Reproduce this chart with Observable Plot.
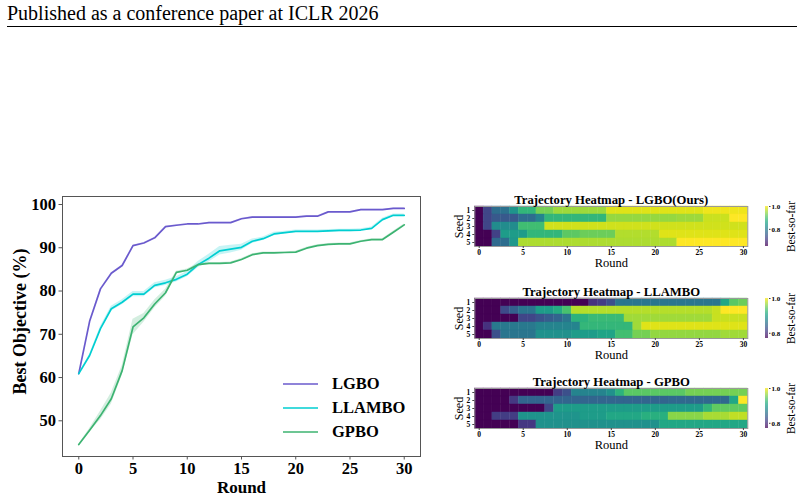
<!DOCTYPE html>
<html>
<head>
<meta charset="utf-8">
<script src="https://cdn.jsdelivr.net/npm/d3@7"></script>
<script src="https://cdn.jsdelivr.net/npm/@observablehq/plot@0.6"></script>
<style>
  body { margin: 0; background: #fff; }
  #page { position: relative; width: 804px; height: 498px; overflow: hidden; background: #fff;
          font-family: "Liberation Serif", "Times New Roman", serif; color: #000; }
  .abs { position: absolute; }
  #header { left: 7px; top: 3px; font-size: 20px; line-height: 20px; white-space: nowrap; }
  #rule { left: 7px; top: 26px; width: 790px; height: 0; border-top: 1px solid #000; }
</style>
</head>
<body>
<div id="page">
  <div id="header" class="abs">Published as a conference paper at ICLR 2026</div>
  <div id="rule" class="abs"></div>
</div>
<script>
// ---- Rounds, seeds and tick values ----
const rounds = [0, 1, 2, 3, 4, 5, 6, 7, 8, 9, 10, 11, 12, 13, 14, 15, 16, 17, 18, 19, 20,
                21, 22, 23, 24, 25, 26, 27, 28, 29, 30];
const seeds = [1, 2, 3, 4, 5];
const roundTicks = [0, 5, 10, 15, 20, 25, 30];
const objectiveTicks = [50, 60, 70, 80, 90, 100];
const colorbarTicks = [0.8, 1.0];

// ---- Mean best objective (%) per round, with the half-width of the shaded band ----
const methods = ["LGBO", "LLAMBO", "GPBO"];
const methodColors = ["#6a5acd", "#00ced1", "#3cb371"];

const lgboMean = [60.9, 73.0, 80.5, 84.1, 85.9, 90.5, 91.1, 92.3, 94.9, 95.2, 95.5, 95.5, 95.8, 95.8, 95.8, 96.7,
                  97.1, 97.1, 97.1, 97.1, 97.1, 97.3, 97.3, 98.3, 98.3, 98.3, 98.8, 98.8, 98.8, 99.1, 99.1];
const lgboBand = [0, 0.1, 0.1, 0.1, 0.1, 0.1, 0.1, 0.1, 0.1, 0.1, 0.1, 0.1, 0.1, 0.1, 0.1, 0.1,
                  0.1, 0.1, 0.1, 0.1, 0.1, 0.1, 0.1, 0.1, 0.1, 0.1, 0.1, 0.1, 0.1, 0.1, 0.1];

const llamboMean = [60.9, 65.1, 71.3, 75.9, 77.4, 79.3, 79.3, 81.3, 81.9, 82.7, 83.9, 86.1, 87.6, 89.3, 89.7, 90.1,
                    91.5, 92.1, 93.2, 93.5, 93.8, 93.8, 93.8, 93.9, 94.0, 94.0, 94.1, 94.5, 96.5, 97.5, 97.5];
const llamboBand = [0, 0.3, 0.5, 0.6, 0.6, 0.6, 0.6, 0.6, 0.6, 0.6, 0.6, 0.7, 0.9, 1.0, 0.9, 0.7,
                    0.5, 0.4, 0.4, 0.3, 0.3, 0.3, 0.3, 0.3, 0.3, 0.3, 0.3, 0.3, 0.3, 0.3, 0.3];

const gpboMean = [44.5, 47.8, 51.2, 55.1, 61.6, 71.7, 73.8, 77.0, 79.6, 84.3, 84.8, 86.1, 86.4, 86.4, 86.5, 87.3,
                  88.4, 88.8, 88.8, 88.9, 89.0, 89.9, 90.5, 90.8, 90.9, 90.9, 91.5, 91.9, 91.9, 93.6, 95.3];
const gpboBand = [0, 0.4, 1.0, 1.3, 1.1, 1.8, 1.0, 0.9, 0.8, 0.3, 0.3, 0.2, 0.2, 0.2, 0.2, 0.2,
                  0.2, 0.2, 0.2, 0.2, 0.2, 0.2, 0.2, 0.2, 0.2, 0.2, 0.2, 0.2, 0.2, 0.2, 0.2];

// ---- Best-so-far trajectories per seed (one array per seed, one value per round) ----
const lgboSeed1 = [0.65, 0.723, 0.774, 0.78, 0.831, 0.881, 0.881, 0.927, 0.927, 0.949, 0.949, 0.949, 0.949, 0.949, 0.949, 0.983,
                   0.983, 0.983, 0.983, 0.983, 0.983, 0.983, 0.983, 0.983, 0.983, 0.983, 0.991, 0.991, 0.991, 0.991, 0.991];
const lgboSeed2 = [0.65, 0.723, 0.746, 0.746, 0.746, 0.774, 0.774, 0.808, 0.881, 0.881, 0.881, 0.881, 0.881, 0.881, 0.881, 0.944,
                   0.944, 0.944, 0.944, 0.944, 0.944, 0.944, 0.944, 0.949, 0.949, 0.949, 0.972, 0.972, 0.972, 1.0, 1.0];
const lgboSeed3 = [0.65, 0.723, 0.819, 0.819, 0.819, 0.893, 0.893, 0.893, 0.975, 0.975, 0.975, 0.975, 0.975, 0.975, 0.975, 0.975,
                   0.975, 0.975, 0.975, 0.975, 0.975, 0.975, 0.975, 0.975, 0.975, 0.975, 0.975, 0.975, 0.975, 0.975, 0.975];
const lgboSeed4 = [0.65, 0.65, 0.718, 0.842, 0.842, 0.842, 0.881, 0.881, 0.881, 0.881, 0.912, 0.912, 0.921, 0.921, 0.921, 0.921,
                   0.96, 0.96, 0.96, 0.96, 0.96, 0.983, 0.983, 0.983, 0.983, 0.983, 0.983, 0.983, 0.983, 0.983, 0.983];
const lgboSeed5 = [0.65, 0.65, 0.769, 0.774, 0.836, 0.957, 0.957, 0.957, 0.957, 0.957, 0.957, 0.957, 0.957, 0.957, 0.957, 0.957,
                   0.957, 0.957, 0.957, 0.957, 0.957, 0.957, 0.957, 1.0, 1.0, 1.0, 1.0, 1.0, 1.0, 1.0, 1.0];

const llamboSeed1 = [0.77, 0.77, 0.77, 0.77, 0.77, 0.77, 0.77, 0.77, 0.77, 0.77, 0.77, 0.77, 0.77, 0.803, 0.811, 0.826,
                     0.86, 0.86, 0.86, 0.86, 0.86, 0.86, 0.86, 0.86, 0.86, 0.86, 0.86, 0.86, 0.907, 0.941, 0.948];
const llamboSeed2 = [0.77, 0.77, 0.77, 0.822, 0.84, 0.859, 0.859, 0.896, 0.896, 0.911, 0.933, 0.974, 0.974, 0.974, 0.974, 0.974,
                     0.974, 0.974, 0.974, 0.974, 0.974, 0.974, 0.974, 0.974, 0.974, 0.974, 0.974, 0.981, 1.0, 1.0, 1.0];
const llamboSeed3 = [0.77, 0.77, 0.77, 0.77, 0.77, 0.818, 0.818, 0.829, 0.837, 0.844, 0.859, 0.918, 0.918, 0.926, 0.926, 0.926,
                     0.926, 0.967, 0.967, 0.967, 0.967, 0.967, 0.967, 0.967, 0.967, 0.967, 0.967, 0.981, 0.981, 0.981, 0.981];
const llamboSeed4 = [0.77, 0.803, 0.863, 0.863, 0.863, 0.863, 0.863, 0.874, 0.874, 0.874, 0.874, 0.874, 0.922, 0.922, 0.922, 0.922,
                     0.922, 0.922, 0.967, 0.989, 0.989, 0.989, 0.989, 0.989, 0.989, 0.989, 0.989, 0.989, 0.989, 0.989, 0.989];
const llamboSeed5 = [0.77, 0.77, 0.826, 0.859, 0.859, 0.859, 0.859, 0.885, 0.885, 0.885, 0.885, 0.896, 0.896, 0.896, 0.904, 0.904,
                     0.93, 0.93, 0.952, 0.952, 0.963, 0.963, 0.963, 0.963, 0.963, 0.963, 0.963, 0.963, 0.967, 0.967, 0.967];

const gpboSeed1 = [0.77, 0.77, 0.77, 0.77, 0.77, 0.77, 0.77, 0.77, 0.77, 0.811, 0.826, 0.874, 0.874, 0.874, 0.874, 0.885,
                   0.918, 0.941, 0.941, 0.941, 0.941, 0.941, 0.941, 0.941, 0.952, 0.952, 0.952, 0.952, 0.952, 0.952, 0.952];
const gpboSeed2 = [0.77, 0.77, 0.77, 0.77, 0.807, 0.844, 0.844, 0.844, 0.844, 0.844, 0.844, 0.844, 0.844, 0.844, 0.844, 0.844,
                   0.844, 0.844, 0.844, 0.844, 0.844, 0.844, 0.848, 0.848, 0.848, 0.848, 0.848, 0.848, 0.848, 0.907, 1.0];
const gpboSeed3 = [0.77, 0.77, 0.77, 0.77, 0.77, 0.77, 0.77, 0.77, 0.818, 0.896, 0.896, 0.896, 0.896, 0.896, 0.896, 0.896,
                   0.896, 0.896, 0.896, 0.896, 0.896, 0.896, 0.896, 0.896, 0.896, 0.896, 0.922, 0.944, 0.944, 0.944, 0.944];
const gpboSeed4 = [0.77, 0.77, 0.811, 0.811, 0.811, 0.889, 0.889, 0.889, 0.889, 0.889, 0.889, 0.889, 0.896, 0.896, 0.896, 0.907,
                   0.907, 0.907, 0.907, 0.915, 0.915, 0.915, 0.959, 0.959, 0.959, 0.959, 0.97, 0.97, 0.97, 0.978, 0.978];
const gpboSeed5 = [0.77, 0.77, 0.77, 0.77, 0.77, 0.807, 0.807, 0.885, 0.885, 0.885, 0.885, 0.885, 0.885, 0.885, 0.885, 0.885,
                   0.885, 0.885, 0.885, 0.885, 0.885, 0.907, 0.907, 0.907, 0.907, 0.907, 0.907, 0.907, 0.907, 0.907, 0.907];

const heatmapTitles = ["Trajectory Heatmap - LGBO(Ours)", "Trajectory Heatmap - LLAMBO", "Trajectory Heatmap - GPBO"];

// ---------------------------------------------------------------------------------------------
const page = d3.select("#page");
const serif = "'Liberation Serif', 'Times New Roman', serif";

function place(node, left, top) {
  node.style.position = "absolute";
  node.style.left = left + "px";
  node.style.top = top + "px";
  page.node().appendChild(node);
}

// Centered text options (frameAnchor would otherwise pick start/top/bottom anchors)
const centered = {textAnchor: "middle", lineAnchor: "middle"};

// ---- Line chart: best objective vs round ----
const curves = [
  {name: "LGBO", mean: lgboMean, band: lgboBand},
  {name: "LLAMBO", mean: llamboMean, band: llamboBand},
  {name: "GPBO", mean: gpboMean, band: gpboBand}
];
const curveRows = curves.flatMap(c => rounds.map((r, i) => ({
  method: c.name, round: r, mean: c.mean[i], lo: c.mean[i] - c.band[i], hi: c.mean[i] + c.band[i]
})));

const lineChart = Plot.plot({
  width: 430, height: 312,
  marginLeft: 62, marginRight: 10, marginTop: 10, marginBottom: 42,
  style: {fontFamily: serif, fontWeight: "bold", fontSize: "16.5px", color: "#000", background: "transparent", overflow: "visible"},
  x: {domain: [-1.5, 31.5]},
  y: {domain: [41.75, 101.85]},
  color: {domain: methods, range: methodColors},
  marks: [
    Plot.areaY(curveRows, {x: "round", y1: "lo", y2: "hi", z: "method", fill: "method", fillOpacity: 0.22}),
    Plot.line(curveRows, {x: "round", y: "mean", z: "method", stroke: "method", strokeWidth: 1.7}),
    Plot.frame({stroke: "#555", strokeWidth: 1}),
    Plot.axisX(roundTicks, {tickSize: 3.5, tickPadding: 2, stroke: "#555", label: null}),
    Plot.axisY(objectiveTicks, {tickSize: 3.5, tickPadding: 3, stroke: "#555", label: null}),
    Plot.text(["Round"], {text: d => d, frameAnchor: "bottom", ...centered, dy: 31, fontSize: 17}),
    Plot.text(["Best Objective (%)"], {text: d => d, frameAnchor: "left", ...centered, dx: -42, dy: -5, rotate: -90, fontSize: 18})
  ]
});
place(lineChart, 0, 186);

// Legend, lower right inside the axes
const legend = document.createElement("div");
methods.forEach((m, i) => {
  const row = document.createElement("div");
  row.style.cssText = "display:flex;align-items:center;height:24px;";
  const swatch = d3.create("svg").attr("width", 35).attr("height", 24);
  swatch.append("line").attr("x1", 0).attr("x2", 35).attr("y1", 12).attr("y2", 12)
    .attr("stroke", methodColors[i]).attr("stroke-width", 1.7);
  row.appendChild(swatch.node());
  const label = document.createElement("span");
  label.textContent = m;
  label.style.cssText = `margin-left:14px;font-family:${serif};font-weight:bold;font-size:16.5px;line-height:24px;`;
  row.appendChild(label);
  legend.appendChild(row);
});
place(legend, 283, 372);

// ---- Heatmaps of per-seed best-so-far, each with its own colorbar ----
const grids = [
  [lgboSeed1, lgboSeed2, lgboSeed3, lgboSeed4, lgboSeed5],
  [llamboSeed1, llamboSeed2, llamboSeed3, llamboSeed4, llamboSeed5],
  [gpboSeed1, gpboSeed2, gpboSeed3, gpboSeed4, gpboSeed5]
];
const panelTops = [183.7, 275.7, 365.7];

const hmMargins = {marginLeft: 34.3, marginRight: 56.7, marginTop: 22, marginBottom: 26};
const hmHeight = 22 + 40 + 26;

grids.forEach((grid, k) => {
  const rows = grid.flatMap((vals, s) => vals.map((v, r) => ({seed: seeds[s], round: rounds[r], value: v})));
  const extent = d3.extent(rows, d => d.value);
  const color = {type: "linear", scheme: "viridis", domain: extent};

  const hm = Plot.plot({
    width: 364, height: hmHeight, ...hmMargins,
    style: {fontFamily: serif, fontWeight: "bold", fontSize: "7.5px", color: "#000", background: "transparent", overflow: "visible"},
    x: {type: "band", domain: rounds, padding: 0, round: false},
    y: {type: "band", domain: seeds, padding: 0, round: false},
    color,
    marks: [
      Plot.cell(rows, {x: "round", y: "seed", fill: "value", stroke: "value", strokeWidth: 0.4, inset: 0}),
      Plot.frame({stroke: "#999", strokeWidth: 1}),
      Plot.axisX(roundTicks, {tickSize: 2, tickPadding: 1, stroke: "#444", label: null}),
      Plot.axisY(seeds, {tickSize: 2, tickPadding: 2.5, stroke: "#444", label: null}),
      Plot.text([heatmapTitles[k]], {text: d => d, frameAnchor: "top", ...centered, dy: -6.7, fontSize: 12.7, fontWeight: "bold"}),
      Plot.text(["Seed"], {text: d => d, frameAnchor: "left", ...centered, dx: -16, rotate: -90, fontSize: 12, fontWeight: "normal"}),
      Plot.text(["Round"], {text: d => d, frameAnchor: "bottom", ...centered, dy: 16.5, fontSize: 12.5, fontWeight: "normal"})
    ]
  });
  place(hm, 440, panelTops[k]);

  // Colorbar: a ramp across the same colour domain
  const steps = 120;
  const stepSize = (extent[1] - extent[0]) / steps;
  const ramp = d3.range(steps).map(i => extent[0] + i * stepSize);
  const bar = Plot.plot({
    width: 39, height: hmHeight,
    marginLeft: 0, marginRight: 36, marginTop: hmMargins.marginTop, marginBottom: hmMargins.marginBottom,
    style: {fontFamily: serif, fontWeight: "bold", fontSize: "7px", color: "#000", background: "transparent", overflow: "visible"},
    y: {domain: extent},
    color,
    marks: [
      Plot.rect(ramp, {y1: d => d, y2: d => d + stepSize * 1.05, fill: d => d}),
      Plot.axisY(colorbarTicks, {anchor: "right", tickSize: 1.5, tickPadding: 1.5, tickFormat: d3.format(".1f"), stroke: "#444", label: null}),
      Plot.text(["Best-so-far"], {text: d => d, frameAnchor: "right", ...centered, dx: 23, rotate: -90, fontSize: 11.5, fontWeight: "normal"})
    ]
  });
  place(bar, 765, panelTops[k]);
});
</script>
</body>
</html>
